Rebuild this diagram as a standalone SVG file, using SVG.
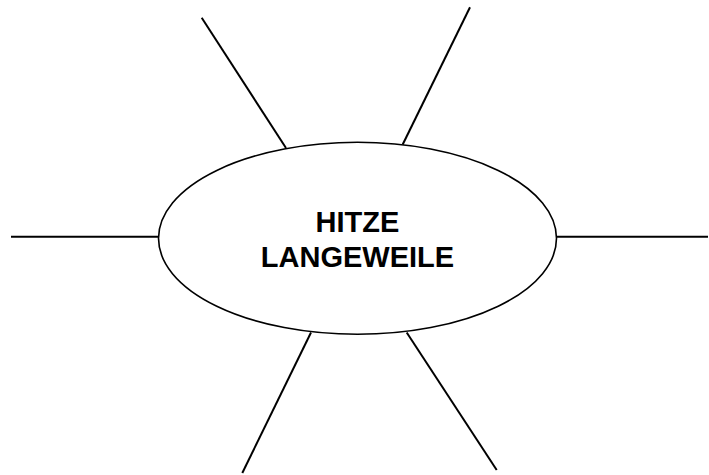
<svg xmlns="http://www.w3.org/2000/svg" width="709" height="475" viewBox="0 0 709 475">
<style>
.c{stroke:#000;stroke-width:2;fill:none}
.n{fill:#fff;stroke:#000;stroke-width:1.6}
.t{font-family:"Liberation Sans",Arial,sans-serif;font-weight:bold;font-size:29px;text-anchor:middle;fill:#000}
</style>
<rect width="709" height="475" fill="#fff"/>
<g id="connectors">
<line class="c" x1="201.7" y1="17.7" x2="286" y2="148"/>
<line class="c" x1="470" y1="7.3" x2="402.7" y2="144.5"/>
<line class="c" x1="11" y1="236.7" x2="158.5" y2="236.7"/>
<line class="c" x1="556.5" y1="236.7" x2="708" y2="236.7"/>
<line class="c" x1="311" y1="332.5" x2="242.3" y2="473"/>
<line class="c" x1="406.7" y1="332.5" x2="496.7" y2="470"/>
</g>
<g id="center">
<ellipse class="n" cx="357.5" cy="238.3" rx="199" ry="96"/>
<text class="t" x="357.5" y="231.7">HITZE</text>
<text class="t" x="357.5" y="266.7">LANGEWEILE</text>
</g>
</svg>
